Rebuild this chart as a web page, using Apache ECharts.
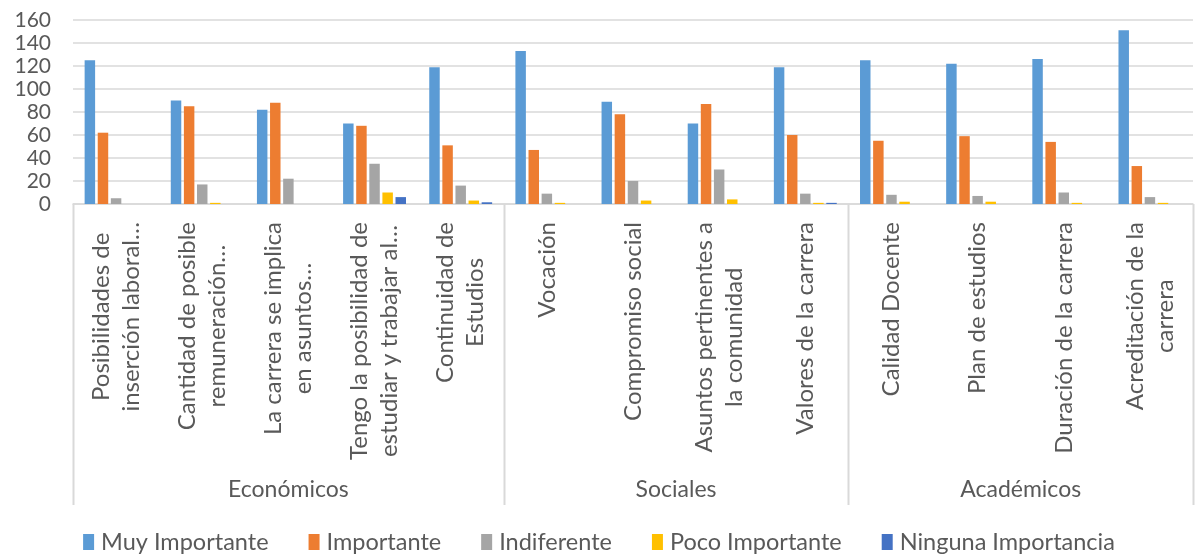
<!DOCTYPE html>
<html><head><meta charset="utf-8">
<script src="https://cdn.jsdelivr.net/npm/echarts@6/dist/echarts.min.js"></script>
<style>html,body{margin:0;padding:0;background:#fff}#c{width:1198px;height:555px}</style>
</head><body><div id="c"></div>
<script>
const categories = [
  "Posibilidades de\ninserción laboral…",
  "Cantidad de posible\nremuneración…",
  "La carrera se implica\nen asuntos…",
  "Tengo la posibilidad de\nestudiar y trabajar al…",
  "Continuidad de\nEstudios",
  "Vocación",
  "Compromiso social",
  "Asuntos pertinentes a\nla comunidad",
  "Valores de la carrera",
  "Calidad Docente",
  "Plan de estudios",
  "Duración de la carrera",
  "Acreditación de la\ncarrera"
];
const groups = ["Económicos", "Sociales", "Académicos"];
const groupSizes = [5, 4, 4];
const seriesNames = ["Muy Importante", "Importante", "Indiferente", "Poco Importante", "Ninguna Importancia"];
const muyImportante = [125, 90, 82, 70, 119, 133, 89, 70, 119, 125, 122, 126, 151];
const importante    = [62, 85, 88, 68, 51, 47, 78, 87, 60, 55, 59, 54, 33];
const indiferente   = [5, 17, 22, 35, 16, 9, 20, 30, 9, 8, 7, 10, 6];
const pocoImportante = [0, 1, 0, 10, 3, 1, 3, 4, 1, 2, 2, 1, 1];
const ningunaImportancia = [0, 0, 0, 6, 1.5, 0, 0, 0, 1, 0, 0, 0, 0];
const yTicks = [0, 20, 40, 60, 80, 100, 120, 140, 160];

const colors = ["#5B9BD5", "#ED7D31", "#A5A5A5", "#FFC000", "#4472C4"];
const FONT = "Lato";
const TXT = "#595959";
const values = [muyImportante, importante, indiferente, pocoImportante, ningunaImportancia];

const chart = echarts.init(document.getElementById('c'), null, {renderer: 'canvas'});
const option = {
  animation: false,
  color: colors,
  grid: {left: 73, right: 5, top: 20, bottom: 351, containLabel: false},
  legend: {
    top: 530, left: 'center', itemWidth: 11, itemHeight: 16, itemGap: 40,
    icon: 'rect', padding: [0, 5, 0, 5],
    textStyle: {fontFamily: FONT, fontSize: 23.5, color: TXT, padding: [0, 0, 0, 2]},
    data: seriesNames
  },
  xAxis: {
    type: 'category',
    data: categories,
    axisLine: {lineStyle: {color: '#D9D9D9', width: 1.5}},
    axisTick: {show: false},
    axisLabel: {
      interval: 0, rotate: 90, margin: 18,
      formatter: v => v.split('\n').map(l => '{c|' + l + '}').join('\n'),
      rich: {c: {align: 'center', fontFamily: FONT, fontSize: 24, color: TXT, lineHeight: 30}}
    }
  },
  yAxis: {
    type: 'value', min: yTicks[0], max: yTicks[yTicks.length - 1], interval: 20,
    axisLine: {show: false}, axisTick: {show: false},
    splitLine: {lineStyle: {color: '#D9D9D9', width: 1.5}},
    axisLabel: {fontFamily: FONT, fontSize: 21, color: TXT, margin: 22}
  },
  series: seriesNames.map((n, i) => ({
    name: n, type: 'bar', data: values[i],
    barGap: '25%', barCategoryGap: '27%'
  }))
};
chart.setOption(option);

// group separators and labels, positioned via the axis scale
const x0 = chart.convertToPixel({xAxisIndex: 0}, 0);
const x1 = chart.convertToPixel({xAxisIndex: 0}, 1);
const cw = x1 - x0;
const yBase = chart.convertToPixel({yAxisIndex: 0}, 0);
const graphics = [];
let start = 0;
const bounds = [0];
groupSizes.forEach(s => { start += s; bounds.push(start); });
bounds.forEach(b => {
  const x = Math.round(x0 - cw / 2 + b * cw) + 0.5;
  graphics.push({type: 'line', shape: {x1: x, y1: yBase, x2: x, y2: 505}, style: {stroke: '#D9D9D9', lineWidth: 2}, silent: true});
});
groups.forEach((g, i) => {
  const cx = x0 - cw / 2 + (bounds[i] + bounds[i + 1]) / 2 * cw;
  graphics.push({type: 'text', x: cx, y: 490, style: {text: g, fontFamily: FONT, fontSize: 23, fill: TXT, align: 'center', verticalAlign: 'middle'}, silent: true});
});
chart.setOption({graphic: graphics});
</script></body></html>
